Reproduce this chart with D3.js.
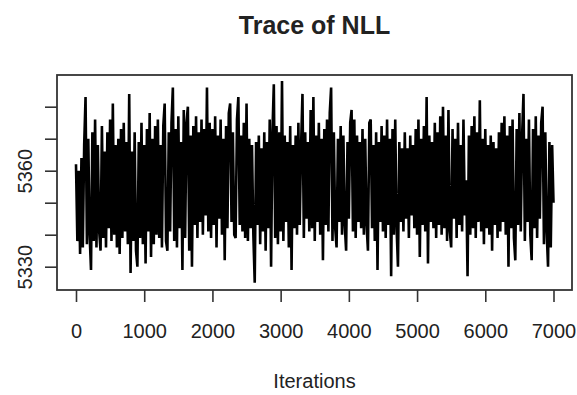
<!DOCTYPE html>
<meta charset="utf-8">
<style>
body { margin: 0; background: #fff; }
text { font-family: "Liberation Sans", Arial, sans-serif; fill: #222; }
.axis path { display: none; }
.axis line { stroke: #333; stroke-width: 1.6; }
</style>
<svg width="577" height="395"></svg>
<script src="https://d3js.org/d3.v7.min.js"></script>
<script>

// NLL, one value every 20 iterations
var iterStep = 20;
var nll = [
  5362, 5338, 5360, 5334, 5364, 5336, 5368, 5383, 5337, 5370,
  5340, 5329, 5372, 5338, 5376, 5336, 5368, 5341, 5335, 5374,
  5339, 5366, 5336, 5372, 5342, 5376, 5338, 5381, 5340, 5368,
  5336, 5370, 5334, 5373, 5339, 5375, 5341, 5369, 5337, 5384,
  5328, 5366, 5338, 5372, 5335, 5330, 5369, 5339, 5375, 5337,
  5368, 5331, 5373, 5341, 5378, 5333, 5370, 5337, 5374, 5340,
  5376, 5339, 5368, 5336, 5374, 5381, 5338, 5335, 5372, 5341,
  5375, 5386, 5338, 5373, 5336, 5377, 5342, 5369, 5329, 5379,
  5339, 5375, 5380, 5335, 5371, 5330, 5374, 5343, 5377, 5339,
  5372, 5344, 5376, 5340, 5373, 5346, 5386, 5341, 5375, 5339,
  5373, 5343, 5377, 5336, 5371, 5345, 5376, 5340, 5370, 5332,
  5374, 5342, 5378, 5381, 5344, 5372, 5340, 5339, 5376, 5383,
  5343, 5371, 5341, 5375, 5339, 5381, 5338, 5370, 5342, 5368,
  5340, 5325, 5369, 5343, 5371, 5337, 5367, 5341, 5372, 5335,
  5369, 5342, 5376, 5330, 5372, 5387, 5339, 5374, 5337, 5372,
  5341, 5388, 5338, 5371, 5344, 5369, 5336, 5374, 5329, 5368,
  5342, 5371, 5340, 5375, 5343, 5368, 5384, 5339, 5372, 5345,
  5369, 5341, 5379, 5342, 5383, 5338, 5371, 5344, 5375, 5340,
  5370, 5332, 5373, 5343, 5376, 5341, 5378, 5386, 5338, 5372,
  5342, 5336, 5370, 5344, 5374, 5340, 5371, 5343, 5335, 5369,
  5345, 5375, 5379, 5341, 5376, 5339, 5371, 5344, 5369, 5342,
  5373, 5340, 5370, 5343, 5335, 5375, 5376, 5342, 5368, 5338,
  5372, 5329, 5369, 5344, 5374, 5341, 5371, 5339, 5376, 5343,
  5370, 5327, 5373, 5340, 5376, 5342, 5330, 5369, 5344, 5367,
  5341, 5372, 5345, 5367, 5339, 5371, 5346, 5368, 5342, 5373,
  5340, 5376, 5333, 5370, 5343, 5374, 5341, 5383, 5331, 5371,
  5344, 5369, 5342, 5375, 5339, 5372, 5343, 5377, 5340, 5380,
  5342, 5371, 5338, 5379, 5341, 5336, 5373, 5345, 5370, 5339,
  5375, 5343, 5368, 5341, 5376, 5346, 5357, 5327, 5371, 5340,
  5374, 5342, 5377, 5339, 5372, 5344, 5382, 5341, 5370, 5337,
  5373, 5342, 5368, 5340, 5371, 5335, 5369, 5343, 5367, 5339,
  5372, 5341, 5375, 5344, 5377, 5340, 5371, 5330, 5374, 5342,
  5376, 5339, 5332, 5373, 5343, 5378, 5341, 5371, 5384, 5338,
  5370, 5344, 5376, 5340, 5332, 5373, 5342, 5377, 5339, 5371,
  5345, 5375, 5380, 5337, 5372, 5341, 5330, 5369, 5336, 5368,
  5350
];

var xTicks = [0, 1000, 2000, 3000, 4000, 5000, 6000, 7000];
var yTicks = [5330, 5340, 5350, 5360, 5370, 5380];
var yLabelled = [5330, 5360];

var svg = d3.select("svg"),
    box = {left: 57, right: 572, top: 75, bottom: 290};

var x = d3.scaleLinear()
    .domain([0, 7000])
    .range([76, 553.5]);

var y = d3.scaleLinear()
    .domain([5330, 5380])
    .range([266.7, 106.7]);

var line = d3.line()
    .x(function(d, i) { return x(i * iterStep); })
    .y(function(d) { return y(d); });

svg.append("path")
    .datum(nll)
    .attr("fill", "none")
    .attr("stroke", "#000")
    .attr("stroke-width", 2.6)
    .attr("stroke-linejoin", "miter")
    .attr("d", line);

svg.append("rect")
    .attr("x", box.left)
    .attr("y", box.top)
    .attr("width", box.right - box.left)
    .attr("height", box.bottom - box.top)
    .attr("fill", "none")
    .attr("stroke", "#333")
    .attr("stroke-width", 1.8);

// x axis
var gx = svg.append("g")
    .attr("class", "axis")
    .attr("transform", "translate(0," + box.bottom + ")")
    .call(d3.axisBottom(x).tickValues(xTicks).tickSize(12).tickSizeOuter(0)
      .tickFormat(d3.format("d")));

gx.selectAll("text")
    .attr("y", 48)
    .attr("dy", 0)
    .style("font-size", "20px");

// y axis, labels turned like R does
var gy = svg.append("g")
    .attr("class", "axis")
    .attr("transform", "translate(" + box.left + ",0)")
    .call(d3.axisLeft(y).tickValues(yTicks).tickSize(12).tickSizeOuter(0)
      .tickFormat(function(d) { return yLabelled.indexOf(d) >= 0 ? d : ""; }));

gy.selectAll("text")
    .attr("x", 0)
    .attr("dy", 0)
    .attr("text-anchor", "middle")
    .attr("transform", "translate(-25,0) rotate(-90)")
    .style("font-size", "20px");

svg.append("text")
    .attr("x", (box.left + box.right) / 2)
    .attr("y", 34)
    .attr("text-anchor", "middle")
    .style("font-size", "25px")
    .style("font-weight", "bold")
    .text("Trace of NLL");

svg.append("text")
    .attr("x", (box.left + box.right) / 2)
    .attr("y", 388)
    .attr("text-anchor", "middle")
    .style("font-size", "20px")
    .text("Iterations");

</script>
